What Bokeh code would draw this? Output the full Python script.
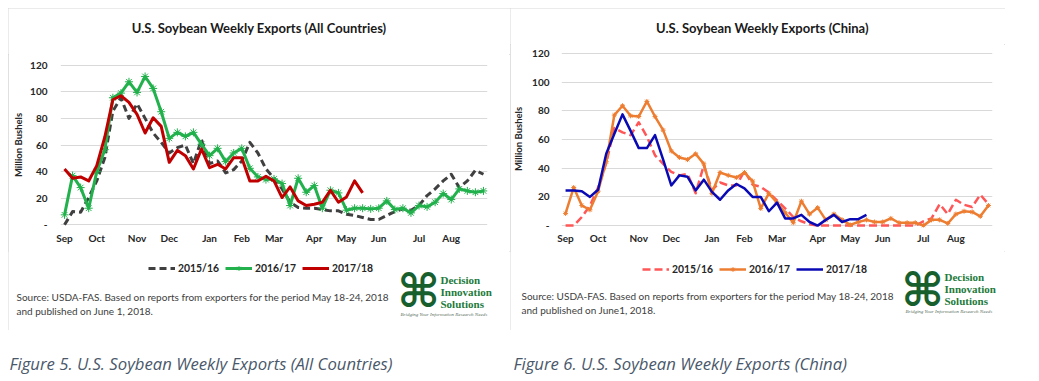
from bokeh.plotting import figure
from bokeh.models import Range1d, FixedTicker, Label, Legend, LegendItem, Spacer
from bokeh.layouts import row, column
from bokeh.embed import file_html
from bokeh.resources import INLINE

# ---------------- data ----------------
month_labels = ["Sep", "Oct", "Nov", "Dec", "Jan", "Feb", "Mar", "Apr", "May", "Jun", "Jul", "Aug"]
month_start_week = [0, 4, 9, 13, 18, 22, 26, 31, 35, 39, 44, 48]
y_ticks = [0, 20, 40, 60, 80, 100, 120]
seasons = ["2015/16", "2016/17", "2017/18"]

all_2015_16 = [0, 10, 9.5, 20.5, 33, 50.5, 85.5, 95.5, 80, 91,
               80, 69, 62, 54, 58, 60, 46, 64, 46, 48,
               39, 41.5, 48, 62, 54, 42, 35, 27, 17, 13,
               12.5, 12.5, 11.5, 10.5, 10.5, 8, 7, 5.5, 4, 4,
               7, 10, 12, 11, 14.5, 22, 27, 33, 38, 28,
               33, 41, 38]
all_2016_17 = [7.5, 37, 28, 12.5, 40, 56.5, 95.5, 99, 107.5, 99.5,
               111.5, 102.5, 85, 65, 69.5, 66.5, 69.5, 60.5, 52, 57.5,
               47.5, 54, 57.5, 42.5, 36, 34, 34.5, 31, 14.5, 35,
               24.5, 29.5, 12.5, 26, 24, 11, 12.5, 12.5, 12, 12.5,
               18, 11.5, 12.5, 9, 14.5, 13.5, 17, 23.5, 19, 27,
               25.5, 24.5, 25.5]
all_2017_18 = [42, 35, 36, 33, 44.5, 66, 94, 97, 92, 83,
               69, 80.5, 74, 47, 56, 52, 42, 57, 43, 45.5,
               42, 50.5, 50.5, 33, 33, 36.5, 33, 20.5, 28.5, 18,
               14.5, 15.5, 17, 26, 17, 21, 33, 24]

china_2015_16 = [0, 0, 6, 14, 26.5, 43.5, 68, 65, 63, 72,
                 62, 49, 43, 37.5, 35, 36, 22.5, 42, 25, 30,
                 28, 28, 38, 28.5, 27, 23, 17.5, 12, 6, 3,
                 1, 0, 0, 0, 0, 0, 0, 0, 0, 0,
                 0, 0, 0, 0, 3, 5, 15, 8, 18, 14.5,
                 13, 21.5, 15]
china_2016_17 = [8.5, 26.5, 14, 11, 24, 44.5, 77, 83.5, 76.5, 76,
                 86.5, 76, 66.5, 52, 47.5, 46, 50, 43, 22.5, 37,
                 35, 33.5, 37, 31, 12, 22.5, 16, 9, 2, 17,
                 8, 12.5, 4, 8, 4, 0.5, 2.5, 4, 2.5, 2.5,
                 5, 2, 2, 2, 0, 4, 4, 1.5, 8, 10,
                 9.5, 6.5, 14]
china_2017_18 = [24.5, 24.5, 24, 20, 25, 50, 64, 77.5, 66, 54,
                 54, 63, 46, 28, 35, 34, 24.5, 32, 23.5, 18,
                 24.5, 29, 26, 20, 20, 10, 16, 5, 5, 7.5,
                 2.5, 0, 4, 7.5, 2.5, 4.5, 4.5, 7.5]

FONT = "Lato"
TXT = "#262626"
SOURCE_1 = "Source: USDA-FAS. Based on reports from exporters for the period May 18-24, 2018"
BORDER = {"outline": "1px solid #d6d6d6", "outline-offset": "-1px"}


def weeks_for(vals):
    return list(range(len(vals)))


def chart_fig(width, height, y0, mbl, mbr, mbt, std_y, std_lab):
    p = figure(width=width, height=height,
               x_range=Range1d(-0.5, 52.5), y_range=Range1d(y0, 122),
               output_backend="svg", toolbar_location=None, tools="",
               min_border_left=mbl, min_border_right=mbr,
               min_border_top=mbt, min_border_bottom=24)
    p.outline_line_color = None
    p.xgrid.grid_line_color = None
    p.ygrid.ticker = FixedTicker(ticks=y_ticks)
    p.ygrid.grid_line_color = "#d9d9d9"
    p.ygrid.grid_line_width = 1

    p.yaxis.ticker = FixedTicker(ticks=y_ticks)
    p.yaxis.major_label_overrides = {0: "-"}
    p.yaxis.axis_line_color = None
    p.yaxis.major_tick_line_color = None
    p.yaxis.minor_tick_line_color = None
    p.yaxis.major_tick_out = 0
    p.yaxis.major_tick_in = 0
    p.yaxis.minor_tick_out = 0
    p.yaxis.major_label_text_font = FONT
    p.yaxis.major_label_text_font_style = "bold"
    p.yaxis.major_label_text_font_size = "10px"
    p.yaxis.major_label_text_color = TXT
    p.yaxis.major_label_standoff = std_y
    p.yaxis.axis_label = "Million Bushels"
    p.yaxis.axis_label_text_font = FONT
    p.yaxis.axis_label_text_font_style = "bold"
    p.yaxis.axis_label_text_font_size = "9.5px"
    p.yaxis.axis_label_text_color = TXT
    p.yaxis.axis_label_standoff = std_lab

    p.xaxis.ticker = FixedTicker(ticks=month_start_week)
    p.xaxis.major_label_overrides = dict(zip(month_start_week, month_labels))
    p.xaxis.axis_line_color = None
    p.xaxis.major_tick_line_color = None
    p.xaxis.minor_tick_line_color = None
    p.xaxis.major_tick_out = 0
    p.xaxis.major_tick_in = 0
    p.xaxis.minor_tick_out = 0
    p.xaxis.major_label_text_font = FONT
    p.xaxis.major_label_text_font_style = "bold"
    p.xaxis.major_label_text_font_size = "10px"
    p.xaxis.major_label_text_color = TXT
    p.xaxis.major_label_standoff = 4
    return p


def blank_fig(width, height):
    # frame covers the whole figure; data ranges are placed away from the series so
    # legend-only renderers stay out of view
    p = figure(width=width, height=height, x_range=Range1d(-1000, -999), y_range=Range1d(-1000, -999),
               output_backend="svg", toolbar_location=None, tools="",
               x_axis_type=None, y_axis_type=None, min_border=0)
    p.outline_line_color = None
    p.grid.grid_line_color = None
    return p


def lab(p, x, y, text, size, style="normal", color=TXT, font=FONT, align="left", baseline="middle"):
    p.add_layout(Label(x=x, y=y, x_units="screen", y_units="screen", text=text,
                       text_font=font, text_font_size=size, text_font_style=style,
                       text_color=color, text_align=align, text_baseline=baseline))


def add_logo(p, sx, sy, tx, ty0, dy, tagx, tagy):
    lab(p, sx, sy, "\u2318", "46px", "bold", "#17602e", "DejaVu Sans", "center", "middle")
    for k, w in enumerate(["Decision", "Innovation", "Solutions"]):
        lab(p, tx, ty0 - k * dy, w, "11px", "bold", "#237a3b", "Liberation Serif")
    lab(p, tagx, tagy, "Bridging Your Information Research Needs", "5px", "italic", "#5a7060",
        "Liberation Serif")


def draw_series(p, vals_list, styles):
    rends = []
    for vals, st in zip(vals_list, styles):
        rs = [p.line(weeks_for(vals), vals, line_color=st["color"], line_width=st["width"],
                     line_dash=st.get("dash", "solid"), line_join="round")]
        if "marker" in st:
            rs.append(p.scatter(weeks_for(vals), vals, marker=st["marker"], size=st["msize"],
                                line_color=st["color"], line_width=st["mwidth"]))
        rends.append(rs)
    return rends


def add_legend(p, vals_list, styles, x, y):
    rends = draw_series(p, vals_list, styles)
    items = [LegendItem(label=name, renderers=rs) for name, rs in zip(seasons, rends)]
    leg = Legend(items=items, orientation="horizontal", location=(x, y),
                 background_fill_alpha=0, border_line_color=None, padding=0, margin=0,
                 spacing=6, glyph_width=27, glyph_height=12, label_height=12, label_standoff=3,
                 label_text_font=FONT, label_text_font_style="bold", label_text_font_size="10.4px",
                 label_text_color=TXT)
    p.add_layout(leg)


all_styles = [dict(color="#404040", width=3, dash="7 4"),
              dict(color="#22b14c", width=3, marker="asterisk", msize=8, mwidth=1),
              dict(color="#c00000", width=3)]
china_styles = [dict(color="#ff5757", width=2.5, dash="8 4"),
                dict(color="#ed7d31", width=2.5, marker="asterisk", msize=5, mwidth=1),
                dict(color="#0a0ab4", width=2.5)]
all_series = [all_2015_16, all_2016_17, all_2017_18]
china_series = [china_2015_16, china_2016_17, china_2017_18]

# ---------------- left panel: all countries (page x 8..510, y 8..330) ----------------
h1 = blank_fig(502, 46)                       # page y 8..54
lab(h1, 250.7, 27, "U.S. Soybean Weekly Exports (All Countries)", "13px", "bold", "#1a1a1a",
    align="center")
c1 = chart_fig(502, 197, -2.0, 52, 23, 8, 13, 3)   # page y 54..251, frame 62..227
draw_series(c1, all_series, all_styles)
f1 = blank_fig(502, 79)                       # page y 251..330
add_legend(f1, all_series, all_styles, 140, 56)
lab(f1, 8, 34, SOURCE_1, "10px", color="#404040")
lab(f1, 8, 20, "and published on June 1, 2018.", "10px", color="#404040")
add_logo(f1, 410, 40, 432, 50.7, 12, 392, 16)
panel1 = column(row(h1), c1, row(f1), styles=BORDER)

# ---------------- right panel: China (page x 510..1005) ----------------
h2 = blank_fig(495, 36)                       # page y 8..44
lab(h2, 252, 17, "U.S. Soybean Weekly Exports (China)", "13px", "bold", "#1a1a1a",
    align="center")
c2 = chart_fig(495, 207, -1.32, 50, 13, 6, 12, 5)  # page y 44..251, frame 50..227
draw_series(c2, china_series, china_styles)
f2 = blank_fig(495, 79)
add_legend(f2, china_series, china_styles, 132, 55)
lab(f2, 11, 35, SOURCE_1, "10px", color="#404040")
lab(f2, 11, 21, "and published on June1, 2018.", "10px", color="#404040")
add_logo(f2, 412, 41, 434, 54, 12, 395, 19)
panel2 = column(row(h2), c2, row(f2), styles=BORDER)

# ---------------- captions ----------------
pc = blank_fig(1000, 47)
lab(pc, 1, 14, "Figure 5. U.S. Soybean Weekly Exports (All Countries)", "16.7px", "italic",
    "#4a586a", "Open Sans")
lab(pc, 505, 14, "Figure 6. U.S. Soybean Weekly Exports (China)", "16.7px", "italic",
    "#4a586a", "Open Sans")

layout = column(Spacer(height=8),
                row(Spacer(width=8), column(row(panel1, panel2), row(pc))))
open("out.html", "w").write(file_html(layout, INLINE))
